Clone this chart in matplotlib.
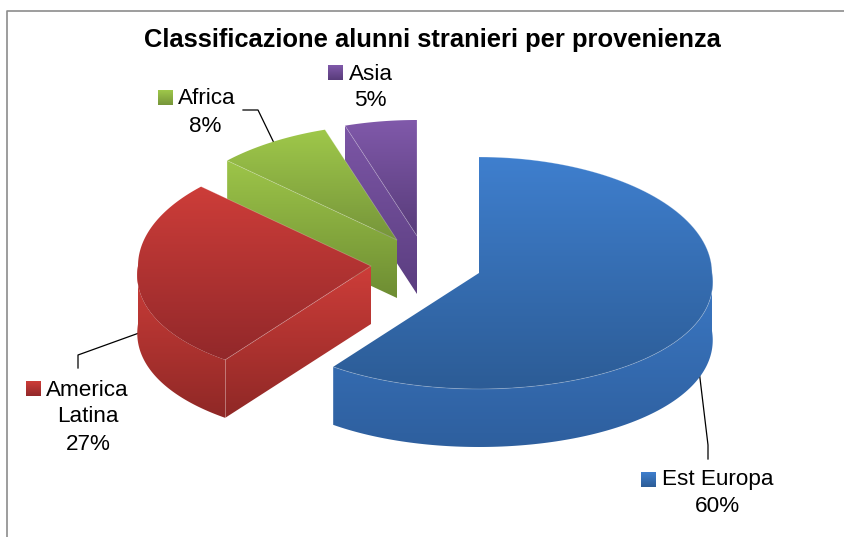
import numpy as np
import matplotlib
matplotlib.use("Agg")
import matplotlib.pyplot as plt
from matplotlib.colors import LinearSegmentedColormap
from matplotlib.patches import Polygon

plt.rcParams['font.family'] = ['Liberation Sans', 'DejaVu Sans']

# dati
categorie = ["Est Europa", "America\nLatina", "Africa", "Asia"]
valori = [60, 27, 8, 5]
titolo = "Classificazione alunni stranieri per provenienza"

# stile: centro di ogni fetta esplosa (pixel), colori chiaro/scuro
centri = [(479, 273), (371, 266), (397, 240), (417, 236)]
col_top = [("#3f7fce", "#2c5c96"), ("#cd3d39", "#92282a"), ("#9fc84a", "#76953a"), ("#8059aa", "#583c7a")]
col_lato = [("#3b78c4", "#2e5f9e"), ("#cd3d39", "#8f2826"), ("#9dc549", "#6e8d33"), ("#7c56a6", "#5b3e80")]
RX, RY, PROF = 233, 116, 58

fig = plt.figure(figsize=(8.45, 5.37), dpi=100)
ax = fig.add_axes([0, 0, 1, 1])


def punto(c, gradi):
    t = np.radians(gradi)
    # leggera prospettiva: la parte davanti e' piu' larga
    f = 1 + 0.08 * np.maximum(0, -np.cos(t))
    return c[0] + RX * np.sin(t) * f, c[1] - RY * np.cos(t)


def riempi(xs, ys, colori, z):
    cmap = LinearSegmentedColormap.from_list("g", colori)
    grad = np.linspace(0, 1, 256).reshape(-1, 1)
    est = (min(xs), max(xs), max(ys), min(ys))
    im = ax.imshow(grad, cmap=cmap, extent=est, aspect='auto', zorder=z, interpolation='bilinear')
    pol = Polygon(np.column_stack([xs, ys]), closed=True, transform=ax.transData)
    im.set_clip_path(pol)


def bordo(xs, ys, z):
    ax.plot(xs, ys, color="white", alpha=0.25, lw=0.6, zorder=z)


angoli = np.concatenate([[0], np.cumsum(valori) / np.sum(valori) * 360])
# ordine di disegno: dal fondo al davanti
for i in [3, 2, 1, 0]:
    c = centri[i]
    a0, a1 = angoli[i], angoli[i + 1]
    z = 10 + (3 - i) * 3
    th = np.linspace(a0, a1, 120)
    ax_x, ax_y = punto(c, th)

    # faccia di taglio (solo per le fette a sinistra)
    if i > 0:
        sx, sy = punto(c, a0)
        riempi([sx, c[0], c[0], sx], [sy, c[1], c[1] + PROF, sy + PROF], col_lato[i], z)
        if i == 1:
            bordo([sx, sx], [sy, sy + PROF], z + 2)

    # bordo esterno visibile (davanti)
    lo, hi = max(a0, 90), min(a1, 270)
    if hi > lo:
        rx, ry = punto(c, np.linspace(lo, hi, 120))
        riempi(np.r_[rx, rx[::-1]], np.r_[ry, ry[::-1] + PROF], col_lato[i], z + 1)

    # faccia superiore
    xs = np.r_[c[0], ax_x]
    ys = np.r_[c[1], ax_y]
    riempi(xs, ys, col_top[i], z + 2)
    bordo(np.r_[ax_x[-1], c[0], ax_x[0]] if i > 0 else ax_x, np.r_[ax_y[-1], c[1], ax_y[0]] if i > 0 else ax_y, z + 2)

# linee guida
linee = [([699, 708, 708], [370, 445, 459]),
         ([78, 78, 139], [368, 355, 333]),
         ([243, 258, 274], [110, 110, 143])]
for lx, ly in linee:
    ax.plot(lx, ly, color="black", lw=0.9, zorder=5)

# etichette: (quadratino x, y), testo x, y, percentuale x, y
pos = [(641, 472, 662, 480, 717, 507),
       (26, 381, 46, 390, 88, 444),
       (158, 90, 178, 99, 205, 126),
       (328, 65, 349, 74, 370, 101)]
for i, p in enumerate(pos):
    riempi([p[0], p[0] + 15, p[0] + 15, p[0]], [p[1], p[1], p[1] + 15, p[1] + 15], col_top[i], 30)
    righe = categorie[i].split("\n")
    ax.text(p[2], p[3], righe[0], fontsize=16.2, va='center', ha='left', color="black", zorder=31)
    if len(righe) > 1:
        ax.text(p[4], (p[3] + p[5]) / 2, righe[1], fontsize=16.2, va='center', ha='center', color="black", zorder=31)
    ax.text(p[4], p[5], f"{valori[i]}%", fontsize=16.2, va='center', ha='center', color="black", zorder=31)

ax.text(432.5, 40, titolo, fontsize=18.4, fontweight='bold', va='center', ha='center', color="black")

# cornice del grafico, tagliata dal bordo immagine
ax.plot([7, 7, 845], [537, 11, 11], color="#8c8c8c", lw=1.2, zorder=1)

ax.set_xlim(0, 845)
ax.set_ylim(537, 0)
ax.axis('off')
fig.savefig("out.png", dpi=100)
